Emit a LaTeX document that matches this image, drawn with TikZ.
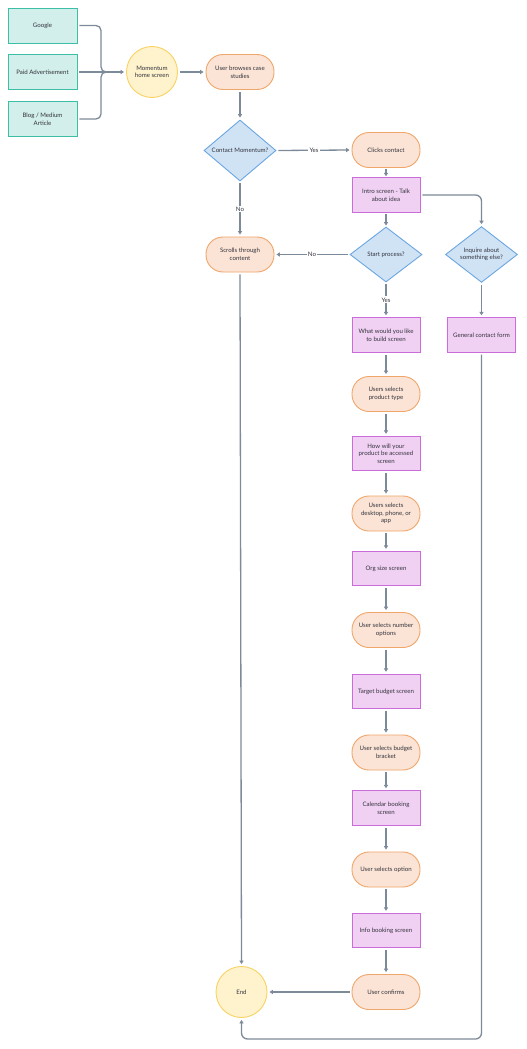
\documentclass[tikz,border=0pt]{standalone}
\usepackage{fontspec}
\setmainfont{Lato}
\usetikzlibrary{shapes.geometric,arrows.meta}
\definecolor{tealF}{HTML}{D2EFEB}
\definecolor{tealB}{HTML}{3DBEA6}
\definecolor{yelF}{HTML}{FFF3CD}
\definecolor{yelB}{HTML}{F8D262}
\definecolor{orF}{HTML}{FBE4D5}
\definecolor{orB}{HTML}{F0A56A}
\definecolor{purF}{HTML}{F1D1F3}
\definecolor{purB}{HTML}{CB6CDB}
\definecolor{bluF}{HTML}{D0E3F5}
\definecolor{bluB}{HTML}{6AA6E0}
\definecolor{lineC}{HTML}{7D8A99}
\definecolor{txtC}{HTML}{33333D}
\begin{document}
\begin{tikzpicture}[x=1pt,y=-1pt,
  base/.style={font=\fontsize{6.1}{7.6}\selectfont, text=txtC, align=center, inner sep=0pt, line width=0.9pt},
  src/.style={base, draw=tealB, fill=tealF, minimum width=69pt, minimum height=35pt},
  circ/.style={base, circle, draw=yelB, fill=yelF, minimum size=51pt},
  pill/.style={base, rectangle, rounded corners=17pt, draw=orB, fill=orF, minimum width=68pt, minimum height=35pt},
  scr/.style={base, draw=purB, fill=purF, minimum width=68pt, minimum height=34.5pt},
  dec/.style={base, diamond, draw=bluB, fill=bluF, minimum width=72pt, minimum height=55pt},
  conn/.style={draw=lineC, line width=1.3pt, shorten <=2pt},
  arr/.style={conn, -{Triangle[length=3.5pt,width=4.2pt]}, shorten >=2pt},
  shortarr/.style={draw=lineC, line width=1.3pt, -{Triangle[length=3.5pt,width=4.2pt]}, shorten <=1pt, shorten >=1pt},
  lbl/.style={font=\fontsize{6.1}{7}\selectfont, text=txtC, fill=white, inner sep=1.2pt}
]
\useasboundingbox (0,0) rectangle (527,1049);
\fill[white] (0,0) rectangle (527,1049);

\node[src] (g) at (42.5,25.5) {Google};
\node[src] (p) at (42.5,72) {Paid Advertisement};
\node[src] (b) at (42.5,119) {Blog / Medium\\Article};
\node[circ] (m) at (152,72) {Momentum\\home screen};
\node[pill] (ub) at (240,72) {User browses case\\studies};
\node[dec] (cm) at (240,150.5) {Contact Momentum?};
\node[pill] (cc) at (386,150) {Clicks contact};
\node[scr] (intro) at (386,195) {Intro screen - Talk\\about idea};
\node[dec] (sp) at (386,254.5) {Start process?};
\node[dec] (inq) at (481.5,254.5) {Inquire about\\something else?};
\node[pill] (sc) at (240,254.5) {Scrolls through\\content};
\node[scr] (what) at (386,335) {What would you like\\to build screen};
\node[scr] (gen) at (481.5,335) {General contact form};
\node[pill] (upt) at (386,394) {Users selects\\product type};
\node[scr] (how) at (386,453.5) {How will your\\product be accessed\\screen};
\node[pill] (udp) at (386,513.5) {Users selects\\desktop, phone, or\\app};
\node[scr] (org) at (386,568.5) {Org size screen};
\node[pill] (unum) at (386,630) {User selects number\\options};
\node[scr] (tb) at (386,691.5) {Target budget screen};
\node[pill] (ubb) at (386,752.5) {User selects budget\\bracket};
\node[scr] (cal) at (386,808) {Calendar booking\\screen};
\node[pill] (uso) at (386,869.5) {User selects option};
\node[scr] (info) at (386,930.5) {Info booking screen};
\node[pill] (uc) at (386,992) {User confirms};
\node[circ] (end) at (241.5,992) {End};

\coordinate (jx) at (101,72);
\coordinate (jr) at (107,72);
\coordinate (bot) at (241.5,1039);

\draw[conn, rounded corners=5pt] (g.east) -| (jx) -- (jr);
\draw[conn, rounded corners=5pt] (b.east) -| (jx) -- (jr);
\draw[arr] (p.east) -- (m.west);
\draw[arr] (m.east) -- (ub.west);
\draw[arr] (ub.south) -- (cm.north);
\draw[arr] (cm.east) -- node[lbl]{Yes} (cc.west);
\draw[arr] (cm.south) -- node[lbl]{No} (sc.north);
\draw[shortarr] (cc.south) -- (intro.north);
\draw[shortarr] (intro.south) -- (sp.north);
\draw[arr, rounded corners=6pt] (intro.east) -| (inq.north);
\draw[arr] (sp.west) -- node[lbl]{No} (sc.east);
\draw[arr] (sp.south) -- node[lbl]{Yes} (what.north);
\draw[arr] (inq.south) -- (gen.north);
\draw[arr] (what) -- (upt);
\draw[arr] (upt) -- (how);
\draw[arr] (how) -- (udp);
\draw[arr] (udp) -- (org);
\draw[arr] (org) -- (unum);
\draw[arr] (unum) -- (tb);
\draw[arr] (tb) -- (ubb);
\draw[arr] (ubb) -- (cal);
\draw[arr] (cal) -- (uso);
\draw[arr] (uso) -- (info);
\draw[arr] (info) -- (uc);
\draw[arr] (uc.west) -- (end.east);
\draw[arr] (sc.south) -- (end.north);
\draw[arr, rounded corners=6pt] (gen.south) -- (gen.south |- bot) -| (end.south);
\end{tikzpicture}
\end{document}
